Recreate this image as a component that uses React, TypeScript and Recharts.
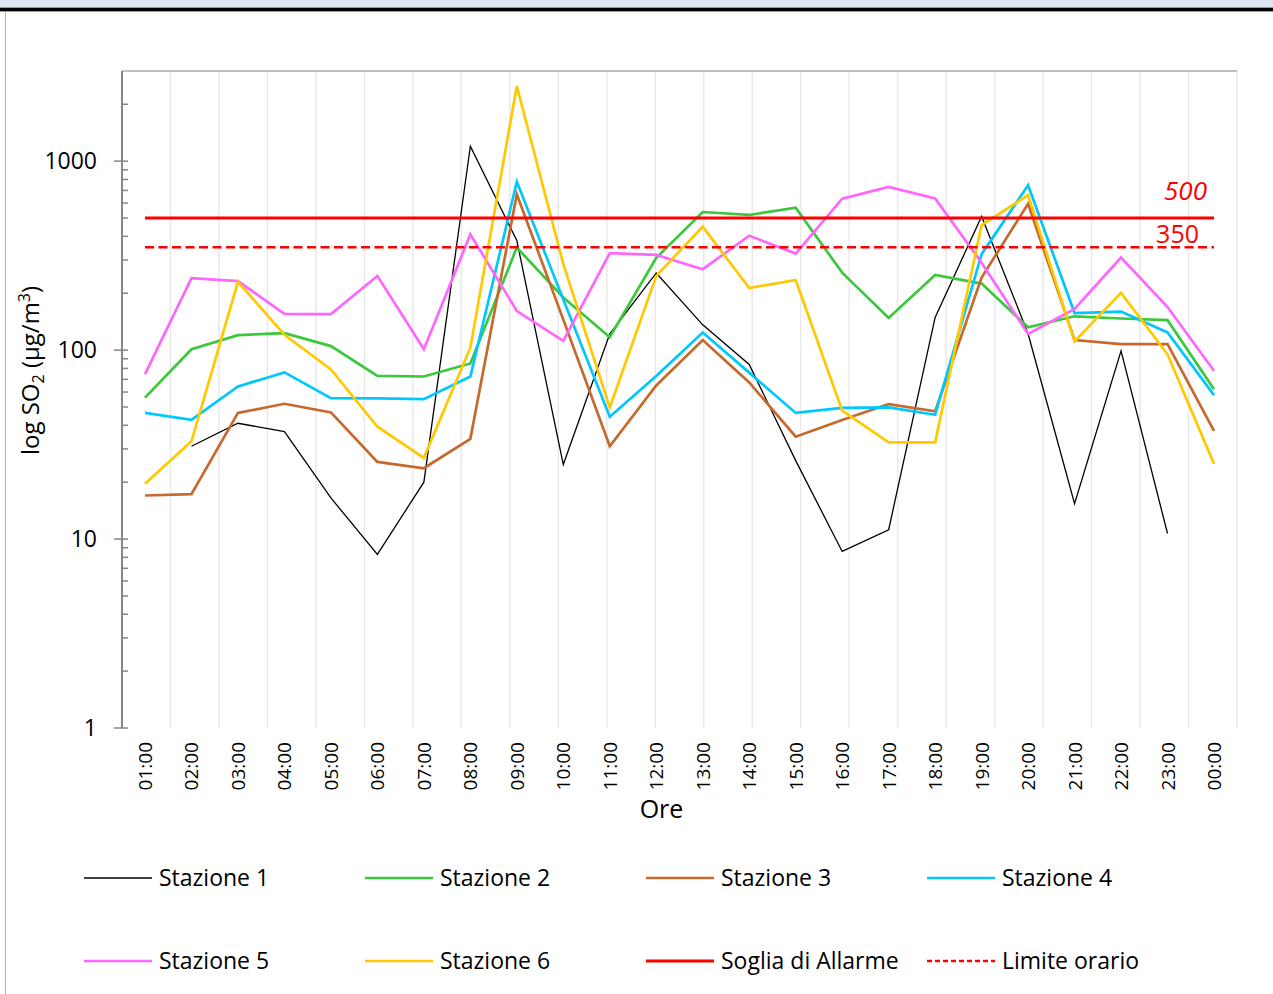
import React from 'react';
import { LineChart, Line, XAxis, YAxis, CartesianGrid, ReferenceLine, Label } from 'recharts';

// ore del giorno (categorie)
const ore = [
  '01:00', '02:00', '03:00', '04:00', '05:00', '06:00', '07:00', '08:00',
  '09:00', '10:00', '11:00', '12:00', '13:00', '14:00', '15:00', '16:00',
  '17:00', '18:00', '19:00', '20:00', '21:00', '22:00', '23:00', '00:00',
];

// concentrazioni SO2 (µg/m3)
const stazione1 = [null, 31, 41, 37, 16.5, 8.3, 20, 1200, 380, 24.8, 122, 256, 136, 84, 26, 8.6, 11.2, 149, 510, 122, 15.4, 99, 10.7, null];
const stazione2 = [56, 101, 120, 123, 105, 73, 72.5, 85, 349, 190, 117, 308, 538, 519, 567, 257, 148, 250, 225, 132, 151, 147, 144, 62];
const stazione3 = [17, 17.3, 46.5, 52, 46.8, 25.6, 23.7, 33.9, 668, 145, 31, 65, 113, 67.4, 34.8, 42.7, 51.8, 47.4, 242, 595, 113, 107.6, 107.6, 37.4];
const stazione4 = [46.5, 42.8, 64.2, 76.2, 55.7, 55.5, 55, 72.5, 778, 185, 44.4, 73, 124, 76, 46.5, 49.4, 49.7, 45.5, 322, 745, 157, 160, 124, 57.8];
const stazione5 = [74.7, 240, 232, 155.6, 155, 247, 101, 410, 161, 112, 326, 319, 268, 403, 324, 633, 730, 635, 290, 121.6, 165, 309, 169, 77.8];
const stazione6 = [19.6, 32.9, 230, 120.5, 79, 39.3, 26.9, 103, 2494, 285, 49.7, 247, 450, 213, 235, 47.8, 32.5, 32.5, 459, 662, 111, 201, 95, 25];

const sogliaAllarme = 500;
const limiteOrario = 350;

const yMax = 3000;
const yTicks = [
  1, 2, 3, 4, 5, 6, 7, 8, 9,
  10, 20, 30, 40, 50, 60, 70, 80, 90,
  100, 200, 300, 400, 500, 600, 700, 800, 900,
  1000, 2000,
];
const yEtichette = [1, 10, 100, 1000];
const bordiOre = [0, 1, 2, 3, 4, 5, 6, 7, 8, 9, 10, 11, 12, 13, 14, 15, 16, 17, 18, 19, 20, 21, 22, 23, 24];

const data = ore.map((ora, i) => ({
  ora,
  s1: stazione1[i],
  s2: stazione2[i],
  s3: stazione3[i],
  s4: stazione4[i],
  s5: stazione5[i],
  s6: stazione6[i],
}));

const serie = [
  { key: 's1', nome: 'Stazione 1', colore: '#000000', spessore: 1.3 },
  { key: 's2', nome: 'Stazione 2', colore: '#3cc83c', spessore: 2.7 },
  { key: 's3', nome: 'Stazione 3', colore: '#c5692d', spessore: 2.7 },
  { key: 's4', nome: 'Stazione 4', colore: '#00c8ff', spessore: 2.7 },
  { key: 's5', nome: 'Stazione 5', colore: '#ff66ff', spessore: 2.7 },
  { key: 's6', nome: 'Stazione 6', colore: '#ffc800', spessore: 2.7 },
];

const legenda = [
  ...serie.map(s => ({ nome: s.nome, colore: s.colore, spessore: s.spessore, tratteggio: undefined as string | undefined })),
  { nome: 'Soglia di Allarme', colore: '#ff0000', spessore: 3, tratteggio: undefined },
  { nome: 'Limite orario', colore: '#ff0000', spessore: 2.5, tratteggio: '5 3' },
];

const FONT = "'Open Sans', sans-serif";

function YTick({ x, y, payload }: any) {
  const major = yEtichette.includes(payload.value);
  return (
    <g>
      <line x1={major ? x - 8 : x} x2={x + 6} y1={y} y2={y} stroke="#868686" strokeWidth={1.5} />
      {major && (
        <text x={x - 25} y={y} dy={8} textAnchor="end" fontSize={23} fill="#000" fontFamily={FONT}>
          {payload.value}
        </text>
      )}
    </g>
  );
}

function XTick({ x, y, payload }: any) {
  return (
    <text x={x} y={y} dy={7} transform={`rotate(-90, ${x}, ${y})`} textAnchor="end" fontSize={19} fill="#000" fontFamily={FONT}>
      {payload.value}
    </text>
  );
}

export default function App() {
  return (
    <div style={{ position: 'absolute', left: 0, top: 0, width: 1273, height: 994, background: '#fff', fontFamily: FONT, overflow: 'hidden' }}>
      <div style={{ position: 'absolute', left: 0, top: 0, width: 1273, height: 7, background: '#dce6f1' }} />
      <div style={{ position: 'absolute', left: 0, top: 7, width: 1273, height: 1, background: '#9a9a9a' }} />
      <div style={{ position: 'absolute', left: 0, top: 8, width: 1273, height: 3, background: '#000' }} />
      <div style={{ position: 'absolute', left: 0, top: 11, width: 1273, height: 1, background: '#9a9a9a' }} />
      <div style={{ position: 'absolute', left: 5, top: 12, width: 1, height: 982, background: '#b4b4b4' }} />

      <div style={{ position: 'absolute', left: 0, top: 0 }}>
        <LineChart width={1273} height={994} data={data} margin={{ top: 71, right: 36, bottom: 166, left: 0 }}>
          <CartesianGrid xAxisId="bordi" horizontal={false} stroke="#e9e9e9" strokeWidth={1.5} />
          <XAxis
            xAxisId="bordi"
            type="number"
            domain={[0, 24]}
            allowDataOverflow
            ticks={bordiOre}
            interval={0}
            height={0}
            tick={() => <g />}
            tickSize={6}
            tickLine={{ stroke: '#868686', strokeWidth: 1.5 }}
            axisLine={{ stroke: '#868686', strokeWidth: 2 }}
          />
          <XAxis
            xAxisId="ore"
            dataKey="ora"
            height={100}
            interval={0}
            padding={{ left: 23, right: 23 }}
            axisLine={false}
            tickLine={false}
            tickSize={0}
            tickMargin={14}
            tick={<XTick />}
          >
            <Label
              content={({ viewBox }: any) => (
                <text x={viewBox.x + viewBox.width / 2 - 18} y={viewBox.y + 90} textAnchor="middle" fontSize={25} fill="#000" fontFamily={FONT}>
                  Ore
                </text>
              )}
            />
          </XAxis>
          <YAxis
            scale="log"
            domain={[1, yMax]}
            allowDataOverflow
            ticks={yTicks}
            interval={0}
            width={122}
            tickSize={0}
            tickMargin={0}
            tickLine={false}
            tick={<YTick />}
            axisLine={{ stroke: '#868686', strokeWidth: 2 }}
          >
            <Label
              content={({ viewBox }: any) => {
                const cx = viewBox.x + 39;
                const cy = viewBox.y + viewBox.height / 2 - 29;
                return (
                  <text x={cx} y={cy} transform={`rotate(-90, ${cx}, ${cy})`} textAnchor="middle" fontSize={24} fill="#000" fontFamily={FONT}>
                    log SO<tspan dy={5} fontSize={16}>2</tspan>
                    <tspan dy={-5}> (µg/m</tspan>
                    <tspan dy={-9} fontSize={16}>3</tspan>
                    <tspan dy={9}>)</tspan>
                  </text>
                );
              }}
            />
          </YAxis>

          {/* bordo dell'area del grafico */}
          <ReferenceLine xAxisId="bordi" y={yMax} stroke="#c0c0c0" strokeWidth={2} ifOverflow="visible" />
          <ReferenceLine xAxisId="bordi" x={24} stroke="#c0c0c0" strokeWidth={2} ifOverflow="visible" />

          {serie.map(s => (
            <Line
              key={s.key}
              xAxisId="ore"
              type="linear"
              dataKey={s.key}
              name={s.nome}
              stroke={s.colore}
              strokeWidth={s.spessore}
              dot={false}
              activeDot={false}
              isAnimationActive={false}
            />
          ))}

          <ReferenceLine
            xAxisId="ore"
            segment={[{ x: ore[0], y: sogliaAllarme }, { x: ore[ore.length - 1], y: sogliaAllarme }]}
            stroke="#ff0000"
            strokeWidth={3}
            label={({ viewBox }: any) => (
              <text x={viewBox.x + viewBox.width - 7} y={viewBox.y - 18} textAnchor="end" fontSize={26} fontStyle="italic" fill="#ff0000" fontFamily={FONT}>
                {sogliaAllarme}
              </text>
            )}
          />
          <ReferenceLine
            xAxisId="ore"
            segment={[{ x: ore[0], y: limiteOrario }, { x: ore[ore.length - 1], y: limiteOrario }]}
            stroke="#ff0000"
            strokeWidth={2.5}
            strokeDasharray="9 4.5"
            label={({ viewBox }: any) => (
              <text x={viewBox.x + viewBox.width - 15} y={viewBox.y - 4} textAnchor="end" fontSize={25} fill="#ff0000" fontFamily={FONT}>
                {limiteOrario}
              </text>
            )}
          />
        </LineChart>
      </div>

      <div style={{ position: 'absolute', left: 84, top: 836, width: 1124, display: 'flex', flexWrap: 'wrap' }}>
        {legenda.map(item => (
          <div key={item.nome} style={{ width: 281, height: 83, display: 'flex', alignItems: 'center' }}>
            <svg width={68} height={10} style={{ display: 'block' }}>
              <line x1={0} x2={68} y1={5} y2={5} stroke={item.colore} strokeWidth={item.spessore} strokeDasharray={item.tratteggio} />
            </svg>
            <span style={{ marginLeft: 7, fontSize: 23, color: '#000', lineHeight: 1 }}>{item.nome}</span>
          </div>
        ))}
      </div>
    </div>
  );
}
